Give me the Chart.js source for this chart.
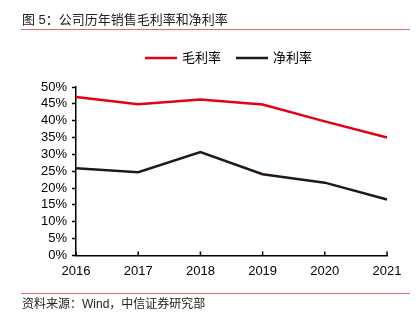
<!DOCTYPE html>
<html>
<head>
<meta charset="utf-8">
<script src="https://cdn.jsdelivr.net/npm/chart.js@4/dist/chart.umd.min.js"></script>
<style>
  html, body { margin: 0; padding: 0; background: #fff; }
  #wrap { position: relative; width: 419px; height: 325px; }
</style>
</head>
<body>
<div id="wrap"><canvas id="chart" width="419" height="325"></canvas></div>
<script>
const years = ['2016', '2017', '2018', '2019', '2020', '2021']
const grossMargin = [47.0, 44.9, 46.3, 44.8, 39.8, 35.0]
const netMargin = [25.9, 24.7, 30.7, 24.1, 21.6, 16.6]
const yTicks = [0, 5, 10, 15, 20, 25, 30, 35, 40, 45, 50]

const titleText = '图 5：公司历年销售毛利率和净利率'
const sourceText = '资料来源：Wind，中信证券研究部'
const font = '"Liberation Sans", Arial, "Noto Sans CJK SC", sans-serif'

// title, legend, footer and the inward x ticks
const decor = {
  id: 'decor',
  afterDraw(chart) {
    const ctx = chart.ctx
    ctx.save()
    ctx.fillStyle = '#222'
    ctx.font = '13px ' + font
    ctx.textBaseline = 'middle'
    ctx.fillText(titleText, 22, 20)
    ctx.font = '12px ' + font
    ctx.fillText(sourceText, 22, 305)

    ctx.strokeStyle = '#e36a6a'
    ctx.lineWidth = 1
    ctx.beginPath()
    ctx.moveTo(21, 29.5); ctx.lineTo(410, 29.5)
    ctx.moveTo(21, 293.5); ctx.lineTo(410, 293.5)
    ctx.stroke()

    // legend
    let lx = 145
    ctx.font = '13px ' + font
    ctx.fillStyle = '#000'
    chart.data.datasets.forEach(ds => {
      ctx.strokeStyle = ds.borderColor
      ctx.lineWidth = 2.5
      ctx.beginPath()
      ctx.moveTo(lx, 58); ctx.lineTo(lx + 32, 58)
      ctx.stroke()
      ctx.fillText(ds.label, lx + 37, 58)
      lx += 37 + ctx.measureText(ds.label).width + 15
    })

    const x = chart.scales.x
    const bottom = chart.chartArea.bottom
    ctx.strokeStyle = '#000'
    ctx.lineWidth = 1.5
    ctx.beginPath()
    x.ticks.forEach((t, i) => {
      const px = x.getPixelForTick(i)
      ctx.moveTo(px, bottom)
      ctx.lineTo(px, bottom - 4)
    })
    ctx.stroke()
    ctx.restore()
  }
}

new Chart(document.getElementById('chart'), {
  type: 'line',
  data: {
    labels: years,
    datasets: [
      { label: '毛利率', data: grossMargin, borderColor: '#e60012', borderWidth: 2.5, pointRadius: 0, tension: 0 },
      { label: '净利率', data: netMargin, borderColor: '#231815', borderWidth: 2.5, pointRadius: 0, tension: 0 }
    ]
  },
  options: {
    responsive: false,
    animation: false,
    layout: { padding: { top: 87, left: 36, right: 32, bottom: 46 } },
    plugins: {
      legend: { display: false },
      tooltip: { enabled: false }
    },
    scales: {
      x: {
        offset: false,
        grid: { display: false },
        border: { color: '#000', width: 1.5 },
        ticks: { color: '#000', font: { family: font, size: 13 }, padding: 0, maxRotation: 0 }
      },
      y: {
        min: 0,
        max: 50,
        afterBuildTicks(scale) { scale.ticks = yTicks.map(v => ({ value: v })) },
        grid: { drawOnChartArea: false, color: '#000', tickLength: 4, tickWidth: 1.5 },
        border: { color: '#000', width: 1.5 },
        ticks: { color: '#000', autoSkip: false, font: { family: font, size: 13 }, padding: 5, callback: v => v + '%' }
      }
    }
  },
  plugins: [decor]
})
</script>
</body>
</html>
